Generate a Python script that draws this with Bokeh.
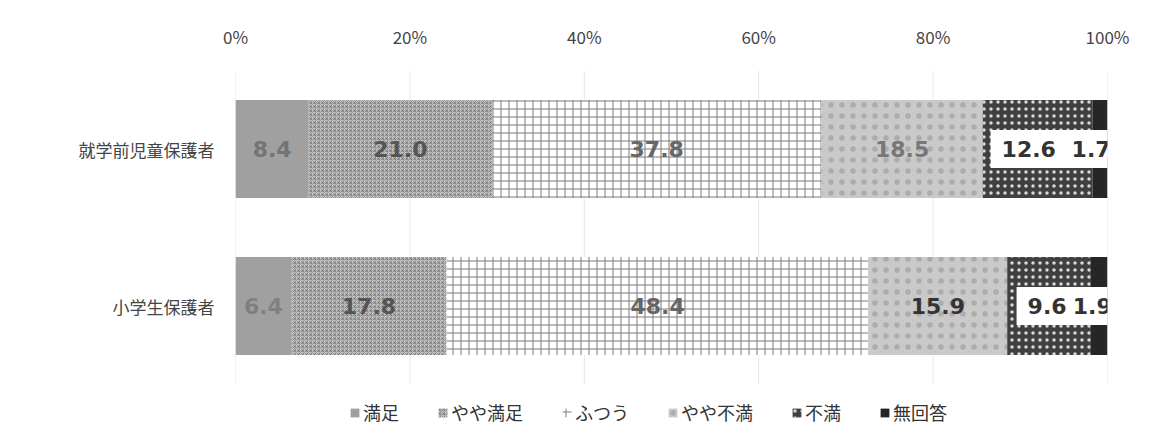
from bokeh.plotting import figure
from bokeh.models import Range1d, FixedTicker, Label, Legend, LegendItem
from bokeh.embed import file_html
from bokeh.resources import INLINE

# Survey groups (top to bottom) and answer categories
groups = ["就学前児童保護者", "小学生保護者"]
series = ["満足", "やや満足", "ふつう", "やや不満", "不満", "無回答"]

# Percentages per answer, one value per group
manzoku = [8.4, 6.4]
yaya_manzoku = [21.0, 17.8]
futsuu = [37.8, 48.4]
yaya_fuman = [18.5, 15.9]
fuman = [12.6, 9.6]
mukaitou = [1.7, 1.9]

pct_ticks = [0, 20, 40, 60, 80, 100]
pct_labels = ["0%", "20%", "40%", "60%", "80%", "100%"]

values = [manzoku, yaya_manzoku, futsuu, yaya_fuman, fuman, mukaitou]

# Fill / hatch styling per answer
styles = [
    dict(fill_color="#a0a0a0"),
    dict(fill_color="#cfcfcf", hatch_pattern="criss_cross", hatch_color="#6a6a6a",
         hatch_scale=4, hatch_weight=1, hatch_alpha=0.55),
    dict(fill_color="#ffffff", hatch_pattern="cross", hatch_color="#7a7a7a",
         hatch_scale=8, hatch_weight=1),
    dict(fill_color="#c9c9c9", hatch_pattern="dot", hatch_color="#8a8a8a",
         hatch_scale=11, hatch_alpha=0.45),
    dict(fill_color="#404040", hatch_pattern="dot", hatch_color="#d8d8d8",
         hatch_scale=7),
    dict(fill_color="#262626"),
]
label_colors = [
    ["#747474", "#808080"],
    ["#555555", "#555555"],
    ["#666666", "#666666"],
    ["#777777", "#333333"],
    ["#333333", "#333333"],
    ["#333333", "#333333"],
]
boxed = [False, False, False, False, True, True]
# horizontal nudges (px) for the crowded labels at the right end
label_dx = [[0, 0], [0, 0], [0, 0], [0, 0], [-9, -2], [-9, -7]]

n = len(groups)
ys = [n - 0.5 - i for i in range(n)]
bar_h = 0.625

# Frame runs to the bottom edge; the band below the bars holds the legend
p = figure(width=1159, height=441, x_range=Range1d(0, 100), y_range=Range1d(-0.363, n),
           x_axis_location="above", output_backend="svg", toolbar_location=None,
           min_border_left=235, min_border_right=52, min_border_top=70,
           min_border_bottom=0)
p.outline_line_color = None

# Axes
p.xaxis.ticker = FixedTicker(ticks=pct_ticks)
p.xaxis.major_label_overrides = {t: l for t, l in zip(pct_ticks, pct_labels)}
p.yaxis.ticker = FixedTicker(ticks=ys)
p.yaxis.major_label_overrides = {y: g for y, g in zip(ys, groups)}
for ax in (p.xaxis, p.yaxis):
    ax.axis_line_color = None
    ax.major_tick_line_color = None
    ax.minor_tick_line_color = None
    ax.major_label_text_font = "Noto Sans CJK JP"
    ax.major_label_text_font_size = "17px"
    ax.major_label_text_color = "#444444"
p.xaxis.major_label_standoff = 16
p.yaxis.major_label_standoff = 15

# Vertical gridlines limited to the bar area
p.xgrid.grid_line_color = None
p.ygrid.grid_line_color = None
p.segment(x0=pct_ticks, y0=[0] * len(pct_ticks), x1=pct_ticks, y1=[n] * len(pct_ticks),
          line_color="#e8e8e8", line_width=1, level="underlay")

label_font = dict(text_align="center", text_baseline="middle", text_font="DejaVu Sans",
                  text_font_style="bold", text_font_size="22px")

# Stacked bars; collect label positions
items = []
labels = []
lefts = [0.0] * n
for k, (name, vals, st) in enumerate(zip(series, values, styles)):
    rights = [l + v for l, v in zip(lefts, vals)]
    r = p.hbar(y=ys, left=lefts, right=rights, height=bar_h, line_color=None, **st)
    items.append(LegendItem(label=name, renderers=[r]))
    for i, v in enumerate(vals):
        labels.append(((lefts[i] + rights[i]) / 2, ys[i], f"{v:.1f}",
                       label_dx[k][i], label_colors[k][i], boxed[k]))
    lefts = rights

# White boxes first, so no box covers a neighbouring label's text
for x, y, txt, dx, col, box in labels:
    if box:
        p.add_layout(Label(x=x, y=y, text=txt, x_offset=dx, text_color="white",
                           background_fill_color="white", border_line_color="white",
                           border_line_width=22, border_line_join="miter", **label_font))
for x, y, txt, dx, col, box in labels:
    p.add_layout(Label(x=x, y=y, text=txt, x_offset=dx, text_color=col, **label_font))

legend = Legend(items=items, orientation="horizontal", location=(114, 16),
                border_line_color=None, background_fill_alpha=0,
                label_text_font="Noto Sans CJK JP", label_text_font_size="18px",
                label_text_color="#333333", glyph_width=11, glyph_height=11,
                label_standoff=3, spacing=38, padding=4, margin=0)
p.add_layout(legend)

open("out.html", "w").write(file_html(p, INLINE))
